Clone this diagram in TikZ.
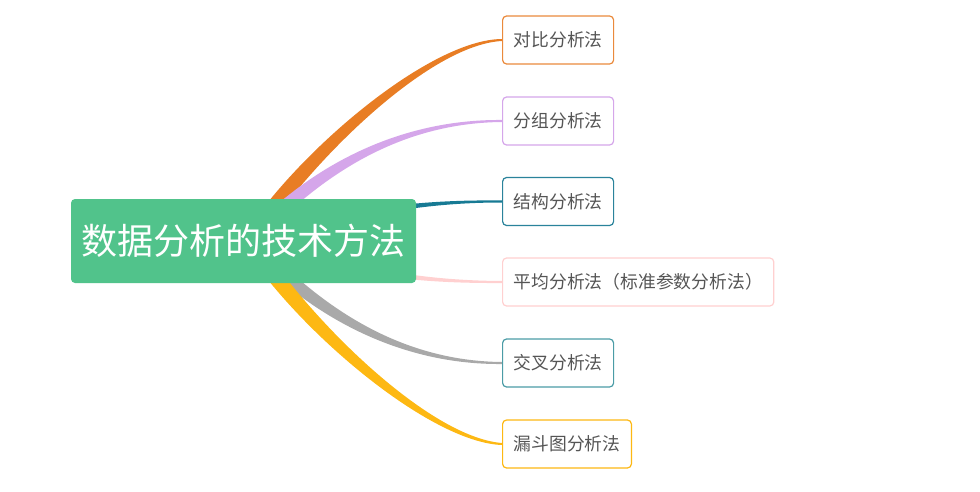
\documentclass[tikz,border=0pt]{standalone}
\usepackage{fontspec}
\newfontfamily\cjk{Noto Sans CJK SC}
\usetikzlibrary{calc,backgrounds}
\definecolor{rootgreen}{HTML}{51C38B}
\definecolor{corange}{HTML}{E87D24}
\definecolor{borange}{HTML}{EA8A3C}
\definecolor{cpurple}{HTML}{D5A6EA}
\definecolor{cteal}{HTML}{177A94}
\definecolor{bteal}{HTML}{2A839B}
\definecolor{cpink}{HTML}{FFD0D0}
\definecolor{cgray}{HTML}{A9A9A9}
\definecolor{bcyan}{HTML}{4B9CA6}
\definecolor{cyellow}{HTML}{FDB813}
\definecolor{ctext}{HTML}{555555}
% #1 colour, #2 target, #3 P1, #4 P2, #5 start half-width, #6 mid half-width, #7 end half-width
\newcommand{\branchcurve}[7]{%
  \coordinate (bP0) at ($(root.center)+(6,0)$);
  \coordinate (bP1) at #3;
  \coordinate (bP2) at #4;
  \coordinate (bP3) at (#2.west);
  \fill[#1] ($(bP0)!#5!90:(bP1)$) .. controls ($(bP1)!#5!-90:(bP0)$) and ($(bP2)!#6!90:(bP3)$) .. ($(bP3)!#7!-90:(bP2)$)
    -- ($(bP3)!#7!90:(bP2)$) .. controls ($(bP2)!#6!-90:(bP3)$) and ($(bP1)!#5!90:(bP0)$) .. ($(bP0)!#5!-90:(bP1)$) -- cycle;
}
\tikzset{
  rootbox/.style={fill=rootgreen, rounded corners=4pt, minimum width=345pt, minimum height=84pt, inner sep=0pt,
    text=white, font=\cjk\fontsize{36pt}{40pt}\selectfont},
  childbox/.style={draw=#1, fill=white, line width=1.2pt, rounded corners=4pt, minimum height=48pt,
    inner xsep=11pt, inner ysep=0pt, anchor=west, text=ctext, font=\cjk\fontsize{17.8pt}{20pt}\selectfont}
}
\begin{document}
\begin{tikzpicture}[x=1pt,y=-1pt]
\useasboundingbox (0,0) rectangle (980,492);
\node[rootbox] (root) at (243.5,241) {数据分析的技术方法};
\node[childbox=borange] (c1) at (502,40) {对比分析法};
\node[childbox=cpurple] (c2) at (502,121) {分组分析法};
\node[childbox=bteal] (c3) at (502,201.5) {结构分析法};
\node[childbox=cpink] (c4) at (502,282) {平均分析法（标准参数分析法）};
\node[childbox=bcyan] (c5) at (502,363) {交叉分析法};
\node[childbox=cyellow] (c6) at (502,444) {漏斗图分析法};
\begin{pgfonlayer}{background}
\branchcurve{corange}{c1}{(305,155)}{(430,42)}{8pt}{2.5pt}{1pt}
\branchcurve{cpurple}{c2}{(315,170)}{(400,121)}{7pt}{2pt}{1pt}
\branchcurve{cteal}{c3}{(350,212)}{(420,201)}{4.5pt}{1.5pt}{1pt}
\branchcurve{cpink}{c4}{(350,272)}{(420,282)}{4.5pt}{1.5pt}{1pt}
\branchcurve{cgray}{c5}{(315,312)}{(400,363)}{7pt}{2pt}{1pt}
\branchcurve{cyellow}{c6}{(305,327)}{(430,440)}{8pt}{2.5pt}{1pt}
\end{pgfonlayer}
\end{tikzpicture}
\end{document}
